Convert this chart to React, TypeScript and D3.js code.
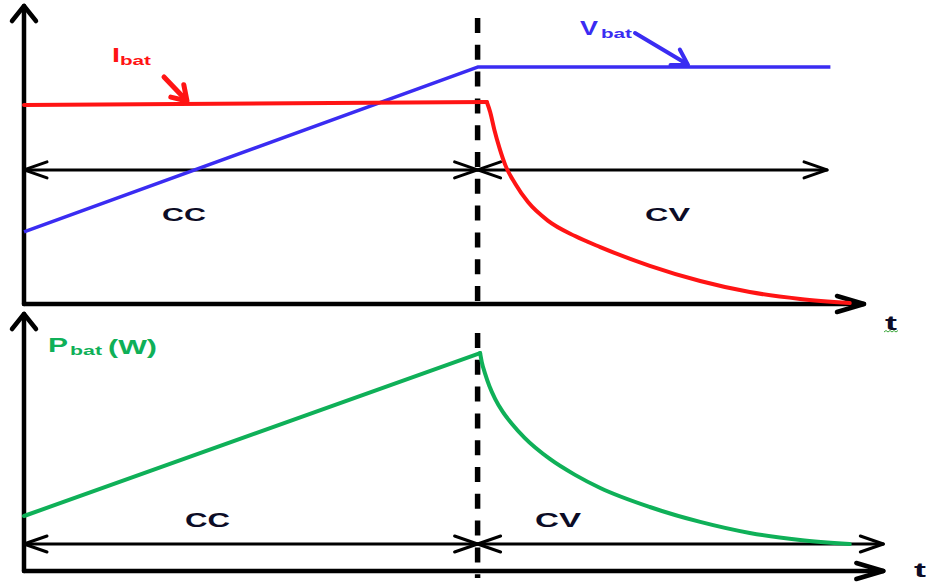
import React from "react";
import * as d3 from "d3";

const W = 926;
const H = 584;

// Phase switch (CC -> CV) and axis extents, in time units
const T_SWITCH = 54;
const T_TOP_AXIS_END = 100;
const T_BOTTOM_AXIS_END = 102.3;
const T_TOP_SPAN_END = 95.6;

// Battery current (top panel)
const iTime = [0, 55.1, 55.5, 56.0, 56.6, 57.3, 58.5, 60.0, 62.4, 65.6, 68.6, 74.5, 80.5, 86.4, 92.4, 98.3];
const iValue = [66.8, 67.8, 64.4, 58.4, 52.4, 46.6, 40.3, 34.2, 27.9, 22.8, 19.1, 12.8, 7.7, 4.0, 1.7, 0.3];

// Battery voltage (top panel)
const vTime = [0, 54, 96];
const vValue = [24.2, 79.5, 79.5];

// Battery power (bottom panel)
const pTime = [0, 54.3, 54.5, 54.9, 55.4, 56.1, 57.0, 58.1, 59.6, 62.6, 65.6, 68.6, 74.5, 80.5, 86.4, 92.4, 98.3];
const pValue = [21.4, 84.8, 81.3, 76.7, 72.0, 66.9, 61.9, 57.2, 51.8, 43.6, 37.4, 32.3, 24.9, 19.1, 14.8, 12.1, 10.5];

// Levels of the CC / CV span arrows
const SPAN_TOP = 45;
const SPAN_BOTTOM = 10.5;

const RED = "#ff1414";
const BLUE = "#3a2cf2";
const GREEN = "#0fb058";
const INK = "#000000";
const TEXT = "#0c0c26";
const FONT = "'Liberation Sans', Arial, sans-serif";

const x = d3.scaleLinear().domain([0, 100]).range([24, 864]);
const yTop = d3.scaleLinear().domain([0, 100]).range([304, 6]);
const yBot = d3.scaleLinear().domain([0, 100]).range([571, 314]);

type Pt = [number, number];

function chevron(tip: Pt, from: Pt, len: number, hw: number): string {
  const dx = tip[0] - from[0];
  const dy = tip[1] - from[1];
  const d = Math.hypot(dx, dy) || 1;
  const ux = dx / d;
  const uy = dy / d;
  const bx = tip[0] - ux * len;
  const by = tip[1] - uy * len;
  const nx = -uy;
  const ny = ux;
  return `M${bx + nx * hw},${by + ny * hw}L${tip[0]},${tip[1]}L${bx - nx * hw},${by - ny * hw}`;
}

function zip(t: number[], v: number[]): Pt[] {
  return t.map((ti, k) => [ti, v[k]] as Pt);
}

// a straight lead-in segment followed by a smooth decay
function splitPaths(pts: Pt[], ys: d3.ScaleLinear<number, number>, breakIdx: number) {
  const lin = d3.line<Pt>().x((d) => x(d[0])).y((d) => ys(d[1]));
  const smooth = d3
    .line<Pt>()
    .x((d) => x(d[0]))
    .y((d) => ys(d[1]))
    .curve(d3.curveMonotoneX);
  return [lin(pts.slice(0, breakIdx + 1)) || "", smooth(pts.slice(breakIdx)) || ""];
}

function SpanArrow({ x0, x1, y }: { x0: number; x1: number; y: number }) {
  return (
    <g stroke={INK} strokeWidth={3} fill="none" strokeLinecap="round" strokeLinejoin="round">
      <line x1={x0} y1={y} x2={x1} y2={y} />
      <path d={chevron([x0, y], [x1, y], 23, 8)} />
      <path d={chevron([x1, y], [x0, y], 23, 8)} />
    </g>
  );
}

export default function App() {
  const currentPaths = splitPaths(zip(iTime, iValue), yTop, 1);
  const powerPaths = splitPaths(zip(pTime, pValue), yBot, 1);
  const voltagePath =
    d3
      .line<Pt>()
      .x((d) => x(d[0]))
      .y((d) => yTop(d[1]))(zip(vTime, vValue)) || "";

  const xs = x(T_SWITCH);
  const x0 = x(0);

  const textBase = { fontFamily: FONT, fontWeight: 700 as const };

  return (
    <svg
      width={W}
      height={H}
      viewBox={`0 0 ${W} ${H}`}
      style={{ position: "absolute", left: 0, top: 0, background: "#fff" }}
    >
      <rect width={W} height={H} fill="#fff" />

      {/* phase boundary */}
      <g stroke={INK} strokeWidth={5.5} strokeDasharray="15 11.8">
        <line x1={xs} y1={18} x2={xs} y2={yTop(0)} />
        <line x1={xs} y1={333} x2={xs} y2={578} />
      </g>

      {/* top panel axes */}
      <g stroke={INK} strokeWidth={4.5} fill="none" strokeLinecap="round" strokeLinejoin="round">
        <line x1={x0} y1={yTop(0)} x2={x0} y2={yTop(100)} />
        <path d={chevron([x0, yTop(100)], [x0, yTop(0)], 15, 12)} />
        <line x1={x0} y1={yTop(0)} x2={x(T_TOP_AXIS_END)} y2={yTop(0)} />
        <path d={chevron([x(T_TOP_AXIS_END), yTop(0)], [x0, yTop(0)], 27, 8)} />
      </g>

      {/* bottom panel axes */}
      <g stroke={INK} strokeWidth={4.5} fill="none" strokeLinecap="round" strokeLinejoin="round">
        <line x1={x0} y1={yBot(0)} x2={x0} y2={yBot(100)} />
        <path d={chevron([x0, yBot(100)], [x0, yBot(0)], 15, 12)} />
        <line x1={x0} y1={yBot(0)} x2={x(T_BOTTOM_AXIS_END)} y2={yBot(0)} />
        <path d={chevron([x(T_BOTTOM_AXIS_END), yBot(0)], [x0, yBot(0)], 27, 8)} />
      </g>

      {/* CC / CV spans */}
      <SpanArrow x0={x0} x1={xs} y={yTop(SPAN_TOP)} />
      <SpanArrow x0={xs} x1={x(T_TOP_SPAN_END)} y={yTop(SPAN_TOP)} />
      <SpanArrow x0={x0} x1={xs} y={yBot(SPAN_BOTTOM)} />
      <SpanArrow x0={xs} x1={x(T_BOTTOM_AXIS_END)} y={yBot(SPAN_BOTTOM)} />

      {/* series */}
      <path d={voltagePath} fill="none" stroke={BLUE} strokeWidth={3.5} strokeLinejoin="round" />
      {currentPaths.map((d, k) => (
        <path key={`i${k}`} d={d} fill="none" stroke={RED} strokeWidth={4} strokeLinejoin="round" strokeLinecap="round" />
      ))}
      {powerPaths.map((d, k) => (
        <path key={`p${k}`} d={d} fill="none" stroke={GREEN} strokeWidth={4} strokeLinejoin="round" strokeLinecap="round" />
      ))}

      {/* series labels with pointers */}
      <g {...textBase} fill={RED}>
        <text x={112} y={62} fontSize={20} textLength={8} lengthAdjust="spacingAndGlyphs">I</text>
        <text x={120} y={65} fontSize={13.5} textLength={31} lengthAdjust="spacingAndGlyphs">bat</text>
      </g>
      <g stroke={RED} strokeWidth={5} fill="none" strokeLinecap="round" strokeLinejoin="round">
        <line x1={164} y1={77} x2={186} y2={100} />
        <path d={chevron([187, 101], [163, 76], 14, 9)} />
      </g>

      <g {...textBase} fill={BLUE}>
        <text x={580} y={35} fontSize={20} textLength={18} lengthAdjust="spacingAndGlyphs">V</text>
        <text x={601} y={38} fontSize={13.5} textLength={31} lengthAdjust="spacingAndGlyphs">bat</text>
      </g>
      <g stroke={BLUE} strokeWidth={4} fill="none" strokeLinecap="round" strokeLinejoin="round">
        <line x1={635} y1={33} x2={687} y2={64} />
        <path d={chevron([688, 65], [635, 33], 15, 9)} />
      </g>

      <g {...textBase} fill={GREEN}>
        <text x={48} y={352} fontSize={21} textLength={20} lengthAdjust="spacingAndGlyphs">P</text>
        <text x={70} y={355} fontSize={13.5} textLength={32} lengthAdjust="spacingAndGlyphs">bat</text>
        <text x={108} y={354} fontSize={21} textLength={49} lengthAdjust="spacingAndGlyphs">(W)</text>
      </g>

      {/* phase names */}
      <g {...textBase} fill={TEXT} fontSize={19}>
        <text x={162} y={221} textLength={44} lengthAdjust="spacingAndGlyphs">CC</text>
        <text x={645} y={221} textLength={45} lengthAdjust="spacingAndGlyphs">CV</text>
        <text x={185} y={527} fontSize={20} textLength={45} lengthAdjust="spacingAndGlyphs">CC</text>
        <text x={535} y={527} fontSize={20} textLength={46} lengthAdjust="spacingAndGlyphs">CV</text>
      </g>

      {/* time axis names */}
      <g {...textBase} fill={TEXT} fontSize={20}>
        <text x={885} y={330} textLength={12} lengthAdjust="spacingAndGlyphs">t</text>
        <text x={914} y={577} textLength={12} lengthAdjust="spacingAndGlyphs">t</text>
      </g>
      <path
        d="M884,332 l2,-1.5 l2,1.5 l2,-1.5 l2,1.5 l2,-1.5 l2,1.5 l2,-1.5"
        fill="none"
        stroke="#3aa63a"
        strokeWidth={1}
      />
    </svg>
  );
}
